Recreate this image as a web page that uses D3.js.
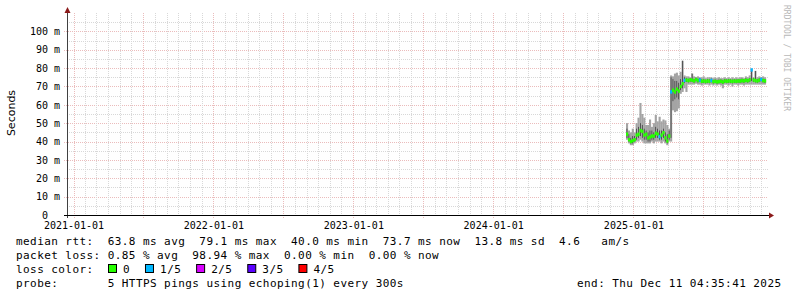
<!DOCTYPE html>
<html>
<head>
<meta charset="utf-8">
<script src="https://cdn.jsdelivr.net/npm/d3@7"></script>
<style>
  body { margin: 0; background: #fff; }
  svg { display: block; }
</style>
</head>
<body>
<svg id="chart" width="797" height="297"></svg>
<script>
// chart data
var SAMPLE_START = "2024-12-15";
var STEP_DAYS = 5;

var median = [44, 41, 40, 40.5, 41, 43.5, 44, 46, 45.5, 43.5, 44, 42, 42.5, 43, 43, 44.5, 44, 42.7, 43.5, 44.8, 42, 40.3, 43,
    67, 68, 67, 68.5, 67.5, 70, 71.5, 73.3,
    73.5, 73.2, 73.6, 73.4, 73.0, 73.8, 73.2, 73.5, 72.8, 73.0, 72.7, 73.0, 72.8, 73.3, 72.6, 72.8, 72.5, 72.7, 72.8, 72.4,
    73.0, 72.8, 73.0, 72.9, 72.7, 73.0, 72.8, 73.0, 72.9, 73.2, 73.0, 73.4, 73.1, 73.6, 79.0, 73.5, 73.2, 73.0, 73.4, 73.8, 73.2, 73.0];
var smokeLo = [41, 39, 38, 38, 39, 40, 40, 41, 40, 39, 39, 39, 39, 40, 39, 40, 40, 40, 39, 40, 39, 38, 40,
    40, 57, 56, 56.5, 58, 66, 67, 69,
    67, 71, 71, 71, 71, 71.5, 71, 71, 70.5, 71, 71, 71, 70.5, 71, 70.5, 71, 70.5, 71, 70.5, 69,
    71, 71, 70.5, 71, 70, 71, 71, 70.5, 71, 71, 70.5, 71, 71, 71, 71, 71, 71, 71, 71, 71, 71, 71];
var smokeHi = [50, 46, 45, 47, 45, 50, 53, 61, 55, 53, 49, 49, 52, 48, 50, 54.5, 51, 53.5, 51, 52, 51.5, 49, 47,
    76, 75.5, 77, 77.5, 76, 78, 84, 76,
    75.5, 75.5, 75, 77, 75.5, 75, 75.5, 75, 75, 75.5, 74.5, 75, 75, 75, 74.5, 75, 74.5, 75, 74.5, 74.5,
    75, 74.5, 75, 74.5, 75, 74.5, 75, 74.5, 75, 75, 74.5, 75.5, 75, 76, 79.5, 75, 78.5, 75, 75.5, 75, 75.5, 75];
var coreLo = [42, 40, 39, 39, 40, 41, 42, 43, 42, 41, 41, 40, 40, 41, 41, 42, 42, 41, 41, 42, 40, 39, 41,
    42, 62, 63, 64, 63, 68, 69, 72,
    72.5, 72.2, 72.6, 72.4, 72, 72.8, 72.2, 72.5, 71.8, 72, 71.7, 72, 71.8, 72.3, 71.6, 71.8, 71.5, 71.7, 71.8, 71.4,
    72, 71.8, 72, 71.9, 71.7, 72, 71.8, 72, 71.9, 72.2, 72, 72.4, 72.1, 72.6, 73, 72.5, 72.2, 72, 72.4, 72.8, 72.2, 72];
var coreHi = [47, 44, 42, 43, 43, 47, 48, 50, 49, 47, 46, 45, 46, 46, 45, 48, 47, 46, 46, 47, 45, 44, 46,
    75, 74, 73, 73, 72, 74, 84, 75,
    74.5, 74.2, 74.6, 77, 74, 74.8, 74.2, 74.5, 73.8, 74, 73.7, 74, 73.8, 74.3, 73.6, 73.8, 73.5, 73.7, 73.8, 73.4,
    74, 73.8, 74, 73.9, 73.7, 74, 73.8, 74, 73.9, 74.2, 74, 74.4, 74.1, 74.6, 79.5, 74.5, 78.4, 74, 74.4, 74.8, 74.2, 74];
var lossCount = [0, 0, 0, 0, 0, 0, 0, 0, 0, 0, 0, 0, 0, 0, 0, 0, 0, 1, 0, 0, 0, 0, 0,
    1, 0, 0, 0, 0, 0, 0, 1,
    0, 0, 0, 0, 0, 0, 0, 1, 0, 0, 0, 0, 0, 1, 0, 0, 0, 0, 0, 0,
    0, 0, 0, 0, 0, 0, 0, 0, 0, 0, 0, 0, 0, 0, 1, 0, 0, 0, 0, 1, 0, 0];

var Y_TICKS = [0, 10, 20, 30, 40, 50, 60, 70, 80, 90, 100];
var X_LABELS = ["2021-01-01", "2022-01-01", "2023-01-01", "2024-01-01", "2025-01-01"];
var LOSS_LABELS = ["0", "1/5", "2/5", "3/5", "4/5"];
var LOSS_COLORS = ["#26ff00", "#00b8ff", "#d800ff", "#5a00ff", "#ff0000"];
var LEGEND_LINES = [
    "median rtt:  63.8 ms avg  79.1 ms max  40.0 ms min  73.7 ms now  13.8 ms sd  4.6   am/s",
    "packet loss: 0.85 % avg  98.94 % max  0.00 % min  0.00 % now",
    "loss color:",
    "probe:       5 HTTPS pings using echoping(1) every 300s"
];
var END_TEXT = "end: Thu Dec 11 04:35:41 2025";

// layout
var PLOT = {left: 67, right: 768, top: 13, bottom: 215};
var MONO = "'DejaVu Sans Mono', monospace";
var parseDay = d3.timeParse("%Y-%m-%d");
var keepSpaces = s => s.replace(/ /g, "\u00a0");

var svg = d3.select("#chart");
svg.append("rect").attr("width", 797).attr("height", 297).attr("fill", "#fff");

var x = d3.scaleTime()
    .domain([new Date(2020, 11, 15), new Date(2025, 11, 18)])
    .range([PLOT.left, PLOT.right]);
var y = d3.scaleLinear()
    .domain([0, 110])
    .range([PLOT.bottom, PLOT.top]);

// grid
var grid = svg.append("g").attr("stroke-dasharray", "1,1").attr("stroke-width", 1);
d3.range(5, 110, 5).forEach(function(v) {
    var major = v % 10 === 0;
    var yy = Math.round(y(v)) + 0.5;
    grid.append("line")
        .attr("x1", major ? PLOT.left - 3 : PLOT.left).attr("x2", PLOT.right)
        .attr("y1", yy).attr("y2", yy)
        .attr("stroke", major ? "#ebbcbc" : "#d8d8d8");
});
d3.timeMonth.range(x.domain()[0], x.domain()[1]).forEach(function(m) {
    var major = m.getMonth() % 6 === 0;
    var xx = Math.round(x(m)) + 0.5;
    grid.append("line")
        .attr("x1", xx).attr("x2", xx)
        .attr("y1", PLOT.top).attr("y2", major ? PLOT.bottom + 3 : PLOT.bottom)
        .attr("stroke", major ? "#ebbcbc" : "#d8d8d8");
});

// samples
var start = parseDay(SAMPLE_START);
var samples = median.map(function(m, i) {
    return {
        date: d3.timeDay.offset(start, i * STEP_DAYS),
        med: m, lo: smokeLo[i], hi: smokeHi[i],
        clo: coreLo[i], chi: coreHi[i], loss: lossCount[i]
    };
});
var stepPx = x(d3.timeDay.offset(start, STEP_DAYS)) - x(start);

var data = svg.append("g");
data.selectAll(".smoke").data(samples).join("rect")
    .attr("class", "smoke")
    .attr("x", d => x(d.date) - stepPx / 2)
    .attr("width", stepPx + 0.2)
    .attr("y", d => y(d.hi))
    .attr("height", d => y(d.lo) - y(d.hi))
    .attr("fill", "#a4a4a4");
data.selectAll(".core").data(samples).join("rect")
    .attr("class", "core")
    .attr("x", d => x(d.date) - 0.35)
    .attr("width", 0.7)
    .attr("y", d => y(d.chi))
    .attr("height", d => y(d.clo) - y(d.chi))
    .attr("fill", "#333");
data.selectAll(".med").data(samples).join("rect")
    .attr("class", "med")
    .attr("x", d => x(d.date) - stepPx / 2)
    .attr("width", stepPx + 0.3)
    .attr("y", d => y(d.med) - 1.7)
    .attr("height", 3.4)
    .attr("fill", d => LOSS_COLORS[d.loss]);

// axes labels
var yAxis = d3.axisLeft(y)
    .tickValues(Y_TICKS)
    .tickSize(0)
    .tickPadding(7)
    .tickFormat(d => d === 0 ? "0\u00a0\u00a0" : d + "\u00a0m");
var gy = svg.append("g")
    .attr("transform", `translate(${PLOT.left}, 0)`)
    .call(yAxis);
gy.select(".domain").remove();
gy.selectAll("text")
    .attr("fill", "#000")
    .style("font-family", MONO)
    .style("font-size", "10px");

var xAxis = d3.axisBottom(x)
    .tickValues(X_LABELS.map(parseDay))
    .tickSize(0)
    .tickPadding(6.5)
    .tickFormat(d3.timeFormat("%Y-%m-%d"));
var gx = svg.append("g")
    .attr("transform", `translate(0, ${PLOT.bottom})`)
    .call(xAxis);
gx.select(".domain").remove();
gx.selectAll("text")
    .attr("fill", "#000")
    .style("font-family", MONO)
    .style("font-size", "10px");

// axis lines and arrows
svg.append("line")
    .attr("x1", PLOT.left + 0.5).attr("x2", PLOT.left + 0.5)
    .attr("y1", PLOT.bottom + 3).attr("y2", PLOT.top - 4)
    .attr("stroke", "#404040");
svg.append("line")
    .attr("x1", PLOT.left - 3).attr("x2", PLOT.right + 2)
    .attr("y1", PLOT.bottom + 0.5).attr("y2", PLOT.bottom + 0.5)
    .attr("stroke", "#000");
svg.append("path")
    .attr("d", `M${PLOT.left - 2.5},${PLOT.top} L${PLOT.left + 0.5},${PLOT.top - 6} L${PLOT.left + 3.5},${PLOT.top} Z`)
    .attr("fill", "#8b1a1a");
svg.append("path")
    .attr("d", `M${PLOT.right + 1},${PLOT.bottom - 2.5} L${PLOT.right + 6},${PLOT.bottom + 0.5} L${PLOT.right + 1},${PLOT.bottom + 3.5} Z`)
    .attr("fill", "#8b1a1a");

// y title
svg.append("text")
    .attr("transform", `translate(15, ${(PLOT.top + PLOT.bottom) / 2 - 1}) rotate(-90)`)
    .attr("text-anchor", "middle")
    .style("font-family", "'DejaVu Sans', sans-serif")
    .style("font-size", "11px")
    .attr("fill", "#000")
    .text("Seconds");

// watermark
svg.append("text")
    .attr("transform", "translate(784, 5) rotate(90)")
    .style("font-family", MONO)
    .style("font-size", "8px")
    .attr("fill", "#b8b8b8")
    .text("RRDTOOL / TOBI OETIKER");

// legend
var CHAR_W = 7.08;
var legend = svg.append("g")
    .style("font-family", MONO)
    .style("font-size", "11px")
    .style("letter-spacing", "0.43px")
    .attr("fill", "#000");
LEGEND_LINES.forEach(function(line, i) {
    legend.append("text")
        .attr("x", 16)
        .attr("y", 245 + i * 14)
        .text(keepSpaces(line));
});
var bx = 108.5;
LOSS_LABELS.forEach(function(lbl, i) {
    legend.append("rect")
        .attr("x", bx).attr("y", 264.5)
        .attr("width", 8).attr("height", 8)
        .attr("fill", LOSS_COLORS[i])
        .attr("stroke", "#000");
    legend.append("text")
        .attr("x", bx + 14.6)
        .attr("y", 273)
        .text(lbl);
    bx = bx + 14.6 + lbl.length * CHAR_W + 15.3;
});
legend.append("text")
    .attr("x", 577)
    .attr("y", 287)
    .text(keepSpaces(END_TEXT));
</script>
</body>
</html>
